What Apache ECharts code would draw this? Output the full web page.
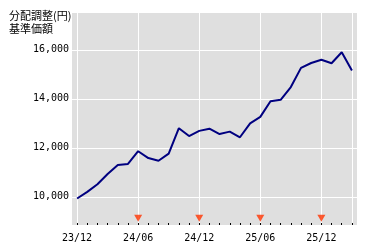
<!DOCTYPE html>
<html><head><meta charset="utf-8">
<script src="https://cdn.jsdelivr.net/npm/echarts@6/dist/echarts.min.js"></script>
<style>html,body{margin:0;padding:0;background:#fff}#c{width:380px;height:250px}</style>
</head><body><div id="c"></div>
<script>
const months = ['23/12','24/01','24/02','24/03','24/04','24/05','24/06','24/07','24/08','24/09','24/10','24/11','24/12',
  '25/01','25/02','25/03','25/04','25/05','25/06','25/07','25/08','25/09','25/10','25/11','25/12','26/01','26/02','26/03'];
const navValues = [9930,10200,10510,10930,11300,11340,11860,11580,11470,11760,12800,12480,12690,
  12780,12560,12660,12430,13000,13260,13900,13960,14480,15260,15460,15590,15450,15900,15150];
const distributionMonths = ['24/06','24/12','25/06','25/12'];
const yTickLabels = ['10,000','12,000','14,000','16,000'];
const titleLines = ['分配調整(円)','基準価額'];

const markerLevel = 9130;
const chart = echarts.init(document.getElementById('c'), null, {renderer:'canvas'});
const labelFont = 'DejaVu Sans Mono';
chart.setOption({
  animation:false,
  backgroundColor:'#ffffff',
  title:{text:titleLines.join('\n'), left:4, top:4,
    textStyle:{fontFamily:'Noto Sans CJK JP', fontSize:11, lineHeight:13.5, fontWeight:'normal', color:'#000'}},
  grid:{left:72, right:23, top:13, bottom:25, show:true, backgroundColor:'#dfdfdf', borderWidth:0},
  xAxis:{type:'category', data:months, boundaryGap:true,
    axisLine:{show:false},
    axisTick:{show:true, inside:true, length:2, alignWithLabel:true, interval:0, lineStyle:{color:'#000'}},
    axisLabel:{interval:(i)=>i%6===0, fontFamily:labelFont, fontSize:10, color:'#000', margin:8},
    splitLine:{show:true, alignWithLabel:true, interval:(i)=>i%6===0||i===months.length-1, lineStyle:{color:'#fff', width:1}}
  },
  yAxis:{type:'value', min:8850, max:17500, splitNumber:4,
    axisLine:{show:false}, axisTick:{show:false},
    axisLabel:{showMinLabel:false, showMaxLabel:false, fontFamily:labelFont, fontSize:10, color:'#000', margin:3,
      formatter:(v)=>{const s=Math.round(v).toLocaleString('en-US'); return yTickLabels.includes(s)?s:'';}},
    splitLine:{show:true, showMinLine:false, showMaxLine:false, lineStyle:{color:'#fff', width:1}}
  },
  series:[
    {type:'line', data:navValues, showSymbol:false, symbol:'none',
      lineStyle:{color:'#000080', width:2}},
    {type:'scatter', data:distributionMonths.map(m=>[m, markerLevel]), symbol:'triangle', symbolRotate:180,
      symbolSize:[8,7], itemStyle:{color:'#ff3300'}}
  ]
});
</script></body></html>
